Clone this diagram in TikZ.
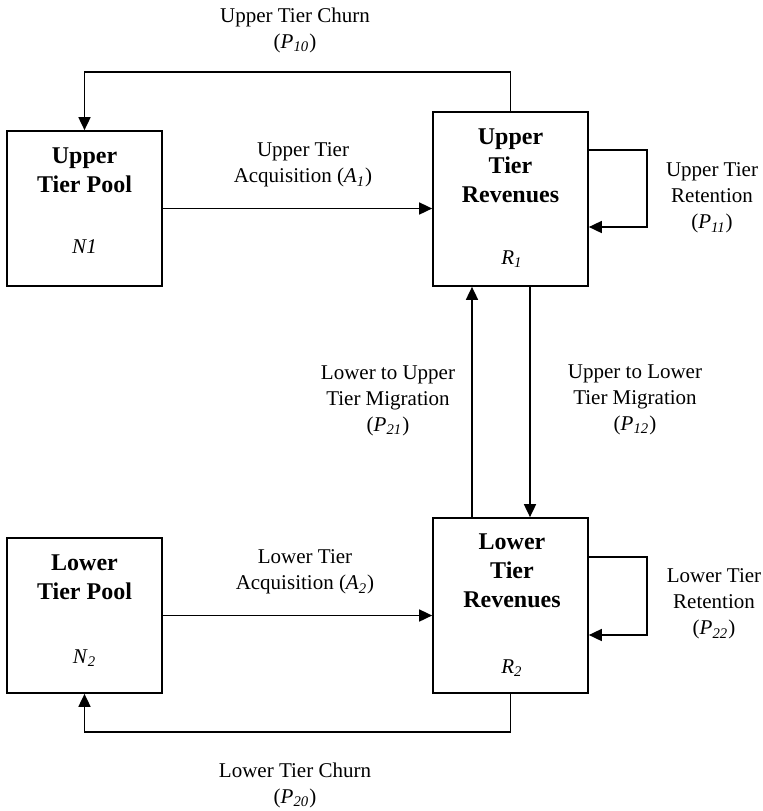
\documentclass[tikz,border=0pt]{standalone}
\usepackage{fontspec}
\setmainfont{Liberation Serif}
\usetikzlibrary{arrows.meta}
\newcommand{\idx}[2]{\textit{#1}\textsubscript{\textit{#2}}}

\begin{document}
\begin{tikzpicture}[x=0.5pt, y=-0.5pt, line width=0.85pt,
    box/.style={draw, minimum width=77.5pt, inner sep=0pt},
    title/.style={font=\fontsize{12}{14.5}\selectfont\bfseries, align=center, inner sep=0pt},
    lbl/.style={font=\fontsize{10.5}{13}\selectfont, align=center, inner sep=0pt},
    flow/.style={-{Triangle[length=6.5pt, width=6pt]}}]

    % Frame of the whole picture
    \useasboundingbox (0,0) rectangle (763,811);

    % Upper tier pool and revenues
    \node[box, minimum height=77.5pt] (pool1) at (84.5,208.5) {};
    \node[title] (pool1t) at (84.5,170) {Upper\\Tier Pool};
    \node[lbl, font=\fontsize{10.5}{13}\selectfont\itshape] (pool1v) at (84.5,247) {N1};

    \node[box, minimum height=87pt] (rev1) at (510.5,199) {};
    \node[title] (rev1t) at (510.5,166) {Upper\\Tier\\Revenues};
    \node[lbl] (rev1v) at (512,259) {\idx{R}{1}};

    % Lower tier pool and revenues
    \node[box, minimum height=77.5pt] (pool2) at (84.5,615.5) {};
    \node[title] (pool2t) at (84.5,577) {Lower\\Tier Pool};
    \node[lbl] (pool2v) at (84.5,658) {\idx{N}{2}};

    \node[box, minimum height=87.5pt] (rev2) at (510.5,605.5) {};
    \node[title] (rev2t) at (512,571) {Lower\\Tier\\Revenues};
    \node[lbl] (rev2v) at (512,668) {\idx{R}{2}};

    % Churn back to the pools
    \draw[flow] (rev1.north) -- ++(0,-39) -| (pool1.north);
    \node[lbl] (churn1) at (295,30) {Upper Tier Churn\\(\idx{P}{10})};
    \draw[flow] (rev2.south) -- ++(0,38) -| (pool2.south);
    \node[lbl] (churn2) at (295,785) {Lower Tier Churn\\(\idx{P}{20})};

    % Acquisition from the pools
    \draw[flow] (pool1.east) -- (rev1.west |- pool1.east);
    \node[lbl] (acq1) at (303,165) {Upper Tier\\Acquisition (\idx{A}{1})};
    \draw[flow] (pool2.east) -- (rev2.west |- pool2.east);
    \node[lbl] (acq2) at (305,572) {Lower Tier\\Acquisition (\idx{A}{2})};

    % Retention loops
    \coordinate (ret1) at (647,227);
    \draw[flow] (rev1.east |- 0,150) -| (ret1) -- (rev1.east |- ret1);
    \node[lbl] (ret1l) at (712,198) {Upper Tier\\Retention\\(\idx{P}{11})};
    \coordinate (ret2) at (647,635);
    \draw[flow] (rev2.east |- 0,557) -| (ret2) -- (rev2.east |- ret2);
    \node[lbl] (ret2l) at (714,604) {Lower Tier\\Retention\\(\idx{P}{22})};

    % Migration between the tiers
    \draw[flow] ([xshift=-19.25pt]rev2.north) -- ([xshift=-19.25pt]rev1.south);
    \node[lbl] (mig21) at (388,401) {Lower to Upper\\Tier Migration\\(\idx{P}{21})};
    \draw[flow] ([xshift=9.75pt]rev1.south) -- ([xshift=9.75pt]rev2.north);
    \node[lbl] (mig12) at (635,400) {Upper to Lower\\Tier Migration\\(\idx{P}{12})};

\end{tikzpicture}
\end{document}
